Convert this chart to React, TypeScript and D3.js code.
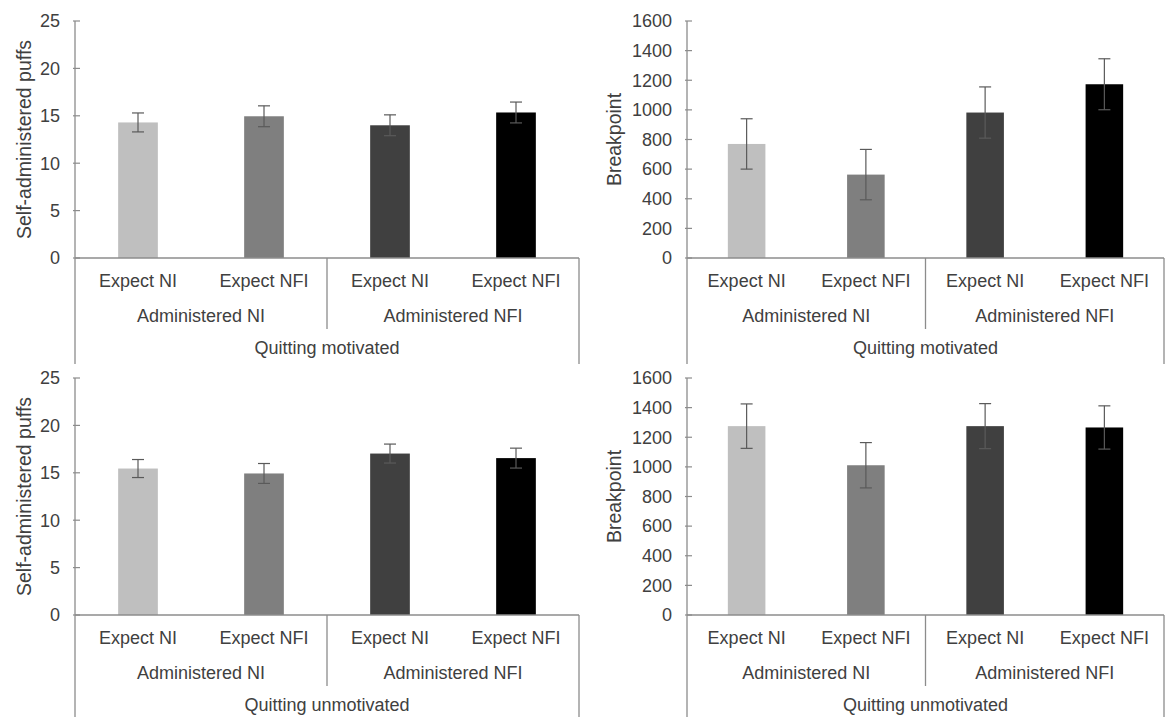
import React from "react";
import * as d3 from "d3";

// ---- data ----
const categories = ["Expect NI", "Expect NFI", "Expect NI", "Expect NFI"];
const groups = ["Administered NI", "Administered NFI"];
const conditions = ["Quitting motivated", "Quitting unmotivated"];
const barColors = ["#bfbfbf", "#7f7f7f", "#404040", "#000000"];

const puffsMotivated = [14.3, 14.95, 14.0, 15.35];
const puffsMotivatedErr = [1.0, 1.1, 1.1, 1.1];
const breakpointMotivated = [770, 563, 982, 1173];
const breakpointMotivatedErr = [170, 170, 173, 172];
const puffsUnmotivated = [15.45, 14.93, 17.03, 16.55];
const puffsUnmotivatedErr = [0.95, 1.05, 1.0, 1.05];
const breakpointUnmotivated = [1275, 1011, 1275, 1266];
const breakpointUnmotivatedErr = [150, 153, 152, 146];

const puffTicks = [0, 5, 10, 15, 20, 25];
const breakpointTicks = [0, 200, 400, 600, 800, 1000, 1200, 1400, 1600];

const panels = [
  { x0: 75, x1: 579, yTop: 21, yBase: 258, values: puffsMotivated, errs: puffsMotivatedErr, ticks: puffTicks, max: 25, title: "Self-administered puffs", titleX: 24, cond: conditions[0] },
  { x0: 687, x1: 1164, yTop: 21, yBase: 258, values: breakpointMotivated, errs: breakpointMotivatedErr, ticks: breakpointTicks, max: 1600, title: "Breakpoint", titleX: 614, cond: conditions[0] },
  { x0: 75, x1: 579, yTop: 378, yBase: 615, values: puffsUnmotivated, errs: puffsUnmotivatedErr, ticks: puffTicks, max: 25, title: "Self-administered puffs", titleX: 24, cond: conditions[1] },
  { x0: 687, x1: 1164, yTop: 378, yBase: 615, values: breakpointUnmotivated, errs: breakpointUnmotivatedErr, ticks: breakpointTicks, max: 1600, title: "Breakpoint", titleX: 614, cond: conditions[1] },
];

const FONT = "'Liberation Sans', Arial, sans-serif";
const TEXT = "#404040";
const AXIS = "#8c8c8c";

function Panel({ p }: { p: (typeof panels)[number] }) {
  const x = d3
    .scaleBand<number>()
    .domain(categories.map((_, i) => i))
    .range([p.x0, p.x1])
    .paddingInner(0.685)
    .paddingOuter(0.3425);
  const y = d3.scaleLinear().domain([0, p.max]).range([p.yBase, p.yTop]);
  const step = x.step();
  const gx = d3
    .scaleBand<number>()
    .domain(groups.map((_, i) => i))
    .range([p.x0, p.x1]);
  const sepX = p.x0 + gx.step();
  const row1 = p.yBase + 23;
  const row2 = p.yBase + 58;
  const row3 = p.yBase + 90;
  const cy = (p.yTop + p.yBase) / 2;
  return (
    <g>
      {/* bars */}
      {p.values.map((v, i) => (
        <rect key={"b" + i} x={x(i)!} y={y(v)} width={x.bandwidth()} height={p.yBase - y(v)} fill={barColors[i]} />
      ))}
      {/* error bars */}
      {p.values.map((v, i) => {
        const cx = x(i)! + x.bandwidth() / 2;
        const hi = y(v + p.errs[i]);
        const lo = y(v - p.errs[i]);
        return (
          <g key={"e" + i} stroke="#5a5a5a" strokeWidth={1.2}>
            <line x1={cx} x2={cx} y1={hi} y2={lo} />
            <line x1={cx - 6} x2={cx + 6} y1={hi} y2={hi} />
            <line x1={cx - 6} x2={cx + 6} y1={lo} y2={lo} />
          </g>
        );
      })}
      {/* axes */}
      <line x1={p.x0} x2={p.x0} y1={p.yTop} y2={p.yBase + 106} stroke={AXIS} strokeWidth={1.3} />
      <line x1={p.x0} x2={p.x1} y1={p.yBase} y2={p.yBase} stroke={AXIS} strokeWidth={1.3} />
      <line x1={p.x1} x2={p.x1} y1={p.yBase} y2={p.yBase + 106} stroke={AXIS} strokeWidth={1.3} />
      <line x1={sepX} x2={sepX} y1={p.yBase} y2={p.yBase + 71} stroke={AXIS} strokeWidth={1.3} />
      {p.ticks.map((t) => (
        <g key={"t" + t}>
          <line x1={p.x0 - 2} x2={p.x0 + 5} y1={y(t)} y2={y(t)} stroke={AXIS} strokeWidth={1.2} />
          <text x={p.x0 - 15} y={y(t)} dy="0.35em" textAnchor="end" fontSize={18} fill={TEXT} fontFamily={FONT}>
            {t}
          </text>
        </g>
      ))}
      {/* category labels */}
      {categories.map((c, i) => (
        <text key={"c" + i} x={p.x0 + step * (i + 0.5)} y={row1} dy="0.35em" textAnchor="middle" fontSize={18} fill={TEXT} fontFamily={FONT}>
          {c}
        </text>
      ))}
      {groups.map((g, i) => (
        <text key={"g" + i} x={gx(i)! + gx.bandwidth() / 2} y={row2} dy="0.35em" textAnchor="middle" fontSize={18} fill={TEXT} fontFamily={FONT}>
          {g}
        </text>
      ))}
      <text x={(p.x0 + p.x1) / 2} y={row3} dy="0.35em" textAnchor="middle" fontSize={18} fill={TEXT} fontFamily={FONT}>
        {p.cond}
      </text>
      <text
        transform={`translate(${p.titleX},${cy}) rotate(-90)`}
        dy="0.35em"
        textAnchor="middle"
        fontSize={19.5}
        fill={TEXT}
        fontFamily={FONT}
      >
        {p.title}
      </text>
    </g>
  );
}

export default function App() {
  return (
    <svg
      width={1165}
      height={717}
      style={{ position: "absolute", left: 0, top: 0, background: "#ffffff" }}
    >
      <rect x={0} y={0} width={1165} height={717} fill="#ffffff" />
      {panels.map((p, i) => (
        <Panel key={i} p={p} />
      ))}
    </svg>
  );
}
